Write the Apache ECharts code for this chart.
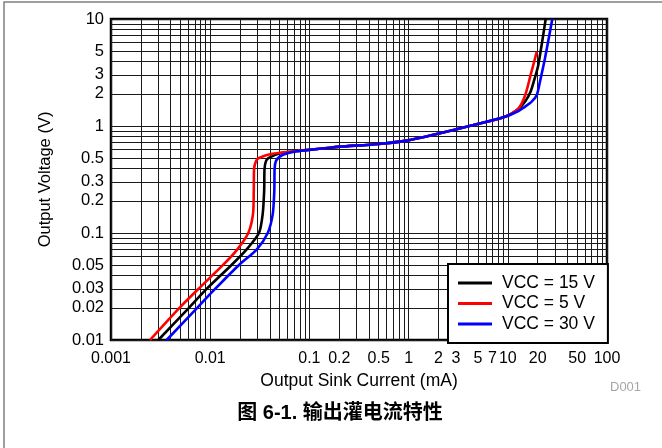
<!DOCTYPE html>
<html>
<head>
<meta charset="utf-8">
<script src="https://cdn.jsdelivr.net/npm/echarts@6/dist/echarts.min.js"></script>
<style>
html,body{margin:0;padding:0;background:#fff;}
#chart{width:662px;height:448px;}
</style>
</head>
<body>
<div id="chart"></div>
<script>
// ---- Data (current in mA, voltage in V) ----
const seriesNames = ['VCC = 15 V', 'VCC = 5 V', 'VCC = 30 V'];
const seriesColors = ['#000000', '#ff0000', '#0000ff'];

const vcc15Current = [0.0030, 0.0061, 0.0092, 0.0163, 0.0232, 0.031, 0.0338, 0.0350, 0.0353, 0.0365, 0.0386, 0.0506, 0.0745, 0.1, 0.161, 0.203, 0.5, 0.957, 2.07, 4.49, 9.37, 12.8, 15.0, 17.0, 18.8, 20.3, 24.1];
const vcc15Voltage = [0.01, 0.02, 0.03, 0.05, 0.07, 0.1, 0.15, 0.25, 0.40, 0.47, 0.50, 0.556, 0.583, 0.60, 0.627, 0.641, 0.68, 0.73, 0.855, 1.02, 1.22, 1.44, 1.70, 2.10, 2.85, 3.72, 10];

const vcc5Current = [0.00247, 0.00490, 0.0076, 0.0134, 0.0187, 0.0242, 0.0270, 0.0275, 0.0277, 0.0290, 0.0306, 0.042, 0.0745, 0.1, 0.161, 0.203, 0.5, 0.957, 2.07, 4.49, 9.37, 12.8, 15.0, 17.0, 19.6];
const vcc5Voltage = [0.01, 0.02, 0.03, 0.05, 0.07, 0.1, 0.15, 0.25, 0.40, 0.47, 0.50, 0.55, 0.583, 0.60, 0.627, 0.641, 0.68, 0.73, 0.855, 1.02, 1.22, 1.46, 1.95, 3.0, 4.95];

const vcc30Current = [0.00364, 0.0074, 0.0112, 0.0194, 0.0294, 0.038, 0.0427, 0.0443, 0.0446, 0.046, 0.0506, 0.06, 0.0745, 0.1, 0.161, 0.203, 0.5, 0.957, 2.07, 4.49, 9.37, 12.8, 14.4, 17.4, 19.6, 21.1, 23.7, 28.1];
const vcc30Voltage = [0.01, 0.02, 0.03, 0.05, 0.07, 0.1, 0.15, 0.25, 0.40, 0.47, 0.52, 0.555, 0.58, 0.598, 0.627, 0.641, 0.68, 0.73, 0.855, 1.02, 1.22, 1.38, 1.48, 1.69, 1.95, 2.6, 4.3, 10];

// Tick labels and grid-line positions
const xTickLabels = [0.001, 0.01, 0.1, 0.2, 0.5, 1, 2, 3, 5, 7, 10, 20, 50, 100];
const yTickLabels = [0.01, 0.02, 0.03, 0.05, 0.1, 0.2, 0.3, 0.5, 1, 2, 3, 5, 10];
const xGridValues = [0.001,0.002,0.003,0.004,0.005,0.006,0.007,0.008,0.009,
  0.01,0.02,0.03,0.04,0.05,0.06,0.07,0.08,0.09,
  0.1,0.2,0.3,0.4,0.5,0.6,0.7,0.8,0.9,
  1,2,3,4,5,6,7,8,9,
  10,20,30,40,50,60,70,80,90,100];
const yGridValues = [0.01,0.02,0.03,0.04,0.05,0.06,0.07,0.08,0.09,
  0.1,0.2,0.3,0.4,0.5,0.6,0.7,0.8,0.9,
  1,2,3,4,5,6,7,8,9,10];

const FONT = "'Liberation Sans', Arial, Helvetica, sans-serif";

function pairs(xs, ys) { return xs.map((x, i) => [x, ys[i]]); }
const seriesData = [
  pairs(vcc15Current, vcc15Voltage),
  pairs(vcc5Current, vcc5Voltage),
  pairs(vcc30Current, vcc30Voltage)
];
function fmt(v) { return String(parseFloat(Number(v).toPrecision(6))); }

const chart = echarts.init(document.getElementById('chart'), null, {renderer: 'canvas'});
chart.setOption({
  animation: false,
  backgroundColor: '#fff',
  title: {
    text: '图 6-1. 输出灌电流特性',
    left: 340, top: 403, textAlign: 'center', padding: 0,
    textStyle: {fontSize: 20, fontWeight: 'bold', color: '#000', fontFamily: "'Liberation Sans', 'Noto Sans CJK SC', sans-serif"}
  },
  graphic: [
    {type: 'rect', shape: {x: 4, y: 2, width: 720, height: 520}, style: {fill: null, stroke: '#808080', lineWidth: 1.5}, silent: true, z: -10},
    {type: 'text', left: 610, top: 381, style: {text: 'D001', fill: '#a6a6a6', font: "13px 'Liberation Sans', Arial, sans-serif"}, silent: true}
  ],
  grid: {
    left: 111, right: 55, top: 19, bottom: 108,
    show: true, borderColor: '#000', borderWidth: 2.5, backgroundColor: 'transparent'
  },
  legend: {
    orient: 'vertical', left: 448, top: 264,
    backgroundColor: '#fff', borderColor: '#000', borderWidth: 2,
    padding: [10, 13, 10, 10], itemGap: 2.5,
    itemWidth: 34, itemHeight: 3, icon: 'rect',
    textStyle: {fontSize: 17.5, lineHeight: 17, color: '#000', fontFamily: FONT, padding: [0, 0, 0, 5]},
    data: seriesNames
  },
  xAxis: {
    type: 'log', logBase: 10, min: 0.001, max: 100,
    name: 'Output Sink Current (mA)', nameLocation: 'middle', nameGap: 31,
    nameTextStyle: {fontSize: 17.5, color: '#000', fontFamily: FONT},
    axisLine: {show: false},
    axisTick: {show: false, customValues: xGridValues},
    axisLabel: {customValues: xTickLabels, formatter: fmt, margin: 11, fontSize: 16, color: '#000', fontFamily: FONT, hideOverlap: false},
    splitLine: {show: true, lineStyle: {color: '#1a1a1a', width: 1, type: 'solid'}},
    minorTick: {show: false}, minorSplitLine: {show: false}
  },
  yAxis: {
    type: 'log', logBase: 10, min: 0.01, max: 10,
    name: 'Output Voltage (V)', nameLocation: 'middle', nameGap: 57,
    nameTextStyle: {fontSize: 16.5, color: '#000', fontFamily: FONT},
    axisLine: {show: false},
    axisTick: {show: false, customValues: yGridValues},
    axisLabel: {customValues: yTickLabels, formatter: fmt, margin: 7, fontSize: 16.5, color: '#000', fontFamily: FONT, hideOverlap: false},
    splitLine: {show: true, lineStyle: {color: '#1a1a1a', width: 1, type: 'solid'}},
    minorTick: {show: false}, minorSplitLine: {show: false}
  },
  series: seriesNames.map((name, i) => ({
    name: name,
    type: 'line',
    data: seriesData[i],
    color: seriesColors[i],
    symbol: 'none', showSymbol: false,
    smooth: 0.25,
    lineStyle: {color: seriesColors[i], width: 2.6},
    clip: true,
    z: 3 + i
  }))
});
</script>
</body>
</html>
